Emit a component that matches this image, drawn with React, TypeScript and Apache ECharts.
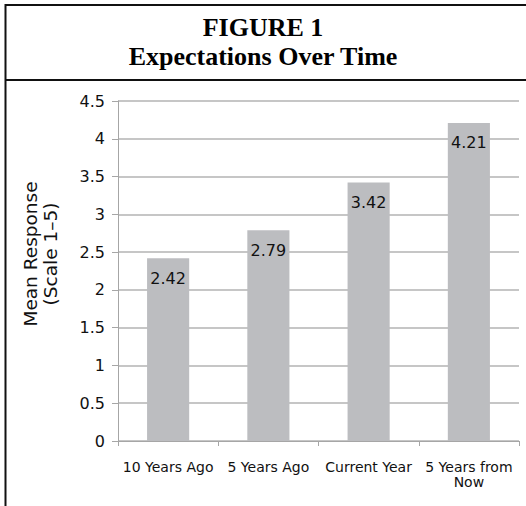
import React, { useEffect, useRef } from "react";
import * as echarts from "echarts";

const categories = ["10 Years Ago", "5 Years Ago", "Current Year", "5 Years from\nNow"];
const values = [2.42, 2.79, 3.42, 4.21];
const titleLines = ["FIGURE 1", "Expectations Over Time"];
const yAxisTitle = "Mean Response\n(Scale 1\u20135)";

const SANS = "'DejaVu Sans', 'Liberation Sans', Arial, sans-serif";

export default function App() {
  const ref = useRef<HTMLDivElement>(null);
  useEffect(() => {
    if (!ref.current) return;
    const chart = echarts.init(ref.current, null, { renderer: "svg" });
    chart.setOption({
      animation: false,
      backgroundColor: "#ffffff",
      grid: { left: 118, right: 7, top: 101, bottom: 65 },
      xAxis: {
        type: "category",
        data: categories,
        axisLine: { lineStyle: { color: "#a6a6a6", width: 1 } },
        axisTick: { show: true, length: 5, lineStyle: { color: "#a6a6a6" } },
        axisLabel: {
          color: "#111",
          fontFamily: SANS,
          fontSize: 14,
          margin: 18,
          lineHeight: 15,
          interval: 0,
        },
      },
      yAxis: {
        type: "value",
        min: 0,
        max: 4.5,
        interval: 0.5,
        axisLine: { show: true, lineStyle: { color: "#a6a6a6" } },
        axisTick: { show: true, length: 6, lineStyle: { color: "#a6a6a6" } },
        splitLine: { lineStyle: { color: "#b3b3b3", width: 1.5 } },
        axisLabel: {
          color: "#111",
          fontFamily: SANS,
          fontSize: 16,
          margin: 13,
        },
      },
      series: [
        {
          type: "bar",
          data: values,
          barWidth: "42%",
          itemStyle: { color: "#bcbdc0" },
          label: {
            show: true,
            position: "insideTop",
            distance: 12,
            color: "#111",
            fontFamily: SANS,
            fontSize: 16,
            formatter: (p: any) => p.value.toFixed(2),
          },
        },
      ],
      graphic: [
        { type: "line", shape: { x1: 5.5, y1: 5, x2: 526, y2: 5 }, style: { stroke: "#111", lineWidth: 2 } },
        { type: "line", shape: { x1: 5.5, y1: 80, x2: 526, y2: 80 }, style: { stroke: "#111", lineWidth: 2 } },
        { type: "line", shape: { x1: 5.5, y1: 4, x2: 5.5, y2: 506 }, style: { stroke: "#111", lineWidth: 2 } },
        {
          type: "text",
          x: 263,
          y: 27,
          style: {
            text: titleLines[0],
            font: "bold 26px 'Liberation Serif', 'Times New Roman', serif",
            fill: "#000",
            textAlign: "center",
            textVerticalAlign: "middle",
          },
        },
        {
          type: "text",
          x: 263,
          y: 56,
          style: {
            text: titleLines[1],
            font: "bold 26px 'Liberation Serif', 'Times New Roman', serif",
            fill: "#000",
            textAlign: "center",
            textVerticalAlign: "middle",
          },
        },
        {
          type: "text",
          x: 40,
          y: 254,
          rotation: Math.PI / 2,
          style: {
            text: yAxisTitle,
            font: "18.5px 'DejaVu Sans', 'Liberation Sans', Arial, sans-serif",
            fill: "#111",
            textAlign: "center",
            textVerticalAlign: "middle",
            lineHeight: 20,
          },
        },
      ],
    });
    return () => chart.dispose();
  }, []);
  return (
    <div
      ref={ref}
      style={{ position: "absolute", left: 0, top: 0, width: 526, height: 506 }}
    />
  );
}
